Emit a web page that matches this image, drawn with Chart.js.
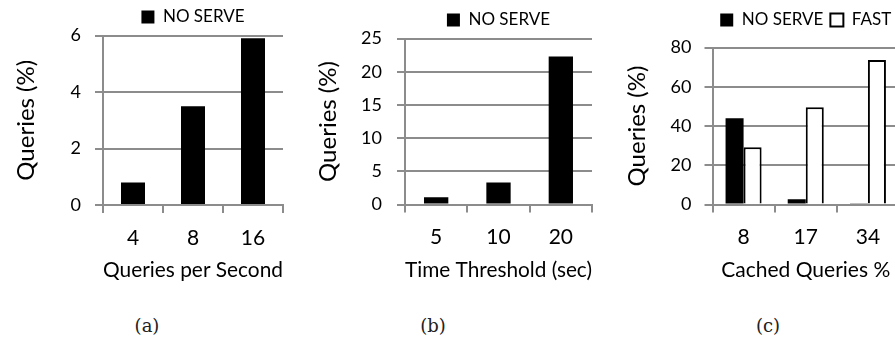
<!DOCTYPE html>
<html>
<head>
<meta charset="utf-8">
<script src="https://cdn.jsdelivr.net/npm/chart.js@4/dist/chart.umd.min.js"></script>
<style>
  html, body { margin: 0; padding: 0; background: #fff; }
  #wrap { position: relative; width: 895px; height: 340px; overflow: hidden; }
  canvas { position: absolute; top: 0; }
  .cap { position: absolute; top: 315px; width: 60px; text-align: center; line-height: 24px;
         font: 18px "DejaVu Serif", serif; color: #222; }
</style>
</head>
<body>
<div id="wrap">
  <canvas id="cA" width="300" height="300" style="left:0"></canvas>
  <canvas id="cB" width="300" height="300" style="left:300px"></canvas>
  <canvas id="cC" width="310" height="300" style="left:600px"></canvas>
  <div class="cap" style="left:117px">(a)</div>
  <div class="cap" style="left:403px">(b)</div>
  <div class="cap" style="left:738px">(c)</div>
</div>
<script>
// three small Excel-style bar panels: (a) load, (b) time threshold, (c) cached queries
Chart.defaults.font.family = "Lato";
Chart.defaults.color = "#000";
const GRAY = "#8c8c8c";

const catsA = ["4", "8", "16"];
const noServeA = [0.8, 3.5, 5.9];

const catsB = ["5", "10", "20"];
const noServeB = [1.1, 3.3, 22.3];

const catsC = ["8", "17", "34"];
const noServeC = [43.9, 2.7, 0.4];
const fastC = [29.2, 49.5, 73.6];

const black = (data, cp) => ({label: "NO SERVE", data, backgroundColor: "#000", borderColor: "#000", borderWidth: 0,
  categoryPercentage: cp, barPercentage: 1});

function panel(id, o) {
  return new Chart(document.getElementById(id), {
    type: "bar",
    data: {labels: o.labels, datasets: o.datasets},
    options: {
      responsive: false, animation: false, devicePixelRatio: 1,
      layout: {padding: {left: o.padL, right: o.padR, top: o.padT, bottom: 0}},
      plugins: {
        legend: {position: "top", fullSize: false,
          labels: {color: "#000", font: {size: 17}, boxWidth: 13, boxHeight: 13, padding: o.legPad}},
        // empty title used only as a spacer between legend and plot in (c)
        title: o.gap ? {display: true, text: "", position: "top", weight: 500, padding: 0, font: {size: o.gap, lineHeight: 1}}
                     : {display: false},
        tooltip: {enabled: false}
      },
      scales: {
        x: {
          grid: {drawOnChartArea: false, color: GRAY, lineWidth: 2, tickLength: 8, offset: true},
          border: {color: GRAY, width: 2},
          ticks: {color: "#000", font: {size: 21}, padding: 12.5},
          title: {display: true, text: o.xTitle, color: "#000", font: {size: 21}, padding: {top: 0, bottom: 17.4}},
          afterFit: s => { s.height = o.xH; }
        },
        y: {
          min: 0, max: o.max,
          ticks: {stepSize: o.step, color: "#000", font: {size: 18}, padding: o.tickPad},
          grid: {color: GRAY, lineWidth: 2, tickLength: 8},
          border: {color: GRAY, width: 2},
          title: {display: true, text: "Queries (%)", color: "#000", font: {size: 24}, padding: 0},
          afterFit: s => { s.width = o.yW; }
        }
      }
    }
  });
}

panel("cA", {labels: catsA, datasets: [black(noServeA, 0.4)], xTitle: "Queries per Second",
  max: 6, step: 2, padL: 11.6, yW: 91.4, padR: 17, padT: 1, legPad: 7.5, xH: 95, tickPad: 14});

panel("cB", {labels: catsB, datasets: [black(noServeB, 0.39)], xTitle: "Time Threshold (sec)",
  max: 25, step: 5, padL: 13.6, yW: 91.4, padR: 8, padT: 4, legPad: 7.5, xH: 95.5, tickPad: 15});

panel("cC", {labels: catsC, datasets: [black(noServeC, 0.58),
    {label: "FAST", data: fastC, backgroundColor: "#fff", borderColor: "#000", borderWidth: 2,
     categoryPercentage: 0.58, barPercentage: 1}],
  xTitle: "Cached Queries %", max: 80, step: 20, padL: 22.6, yW: 89.9, padR: 11, padT: 4.5, legPad: 7,
  gap: 9, xH: 95.5, tickPad: 13});
</script>
</body>
</html>
